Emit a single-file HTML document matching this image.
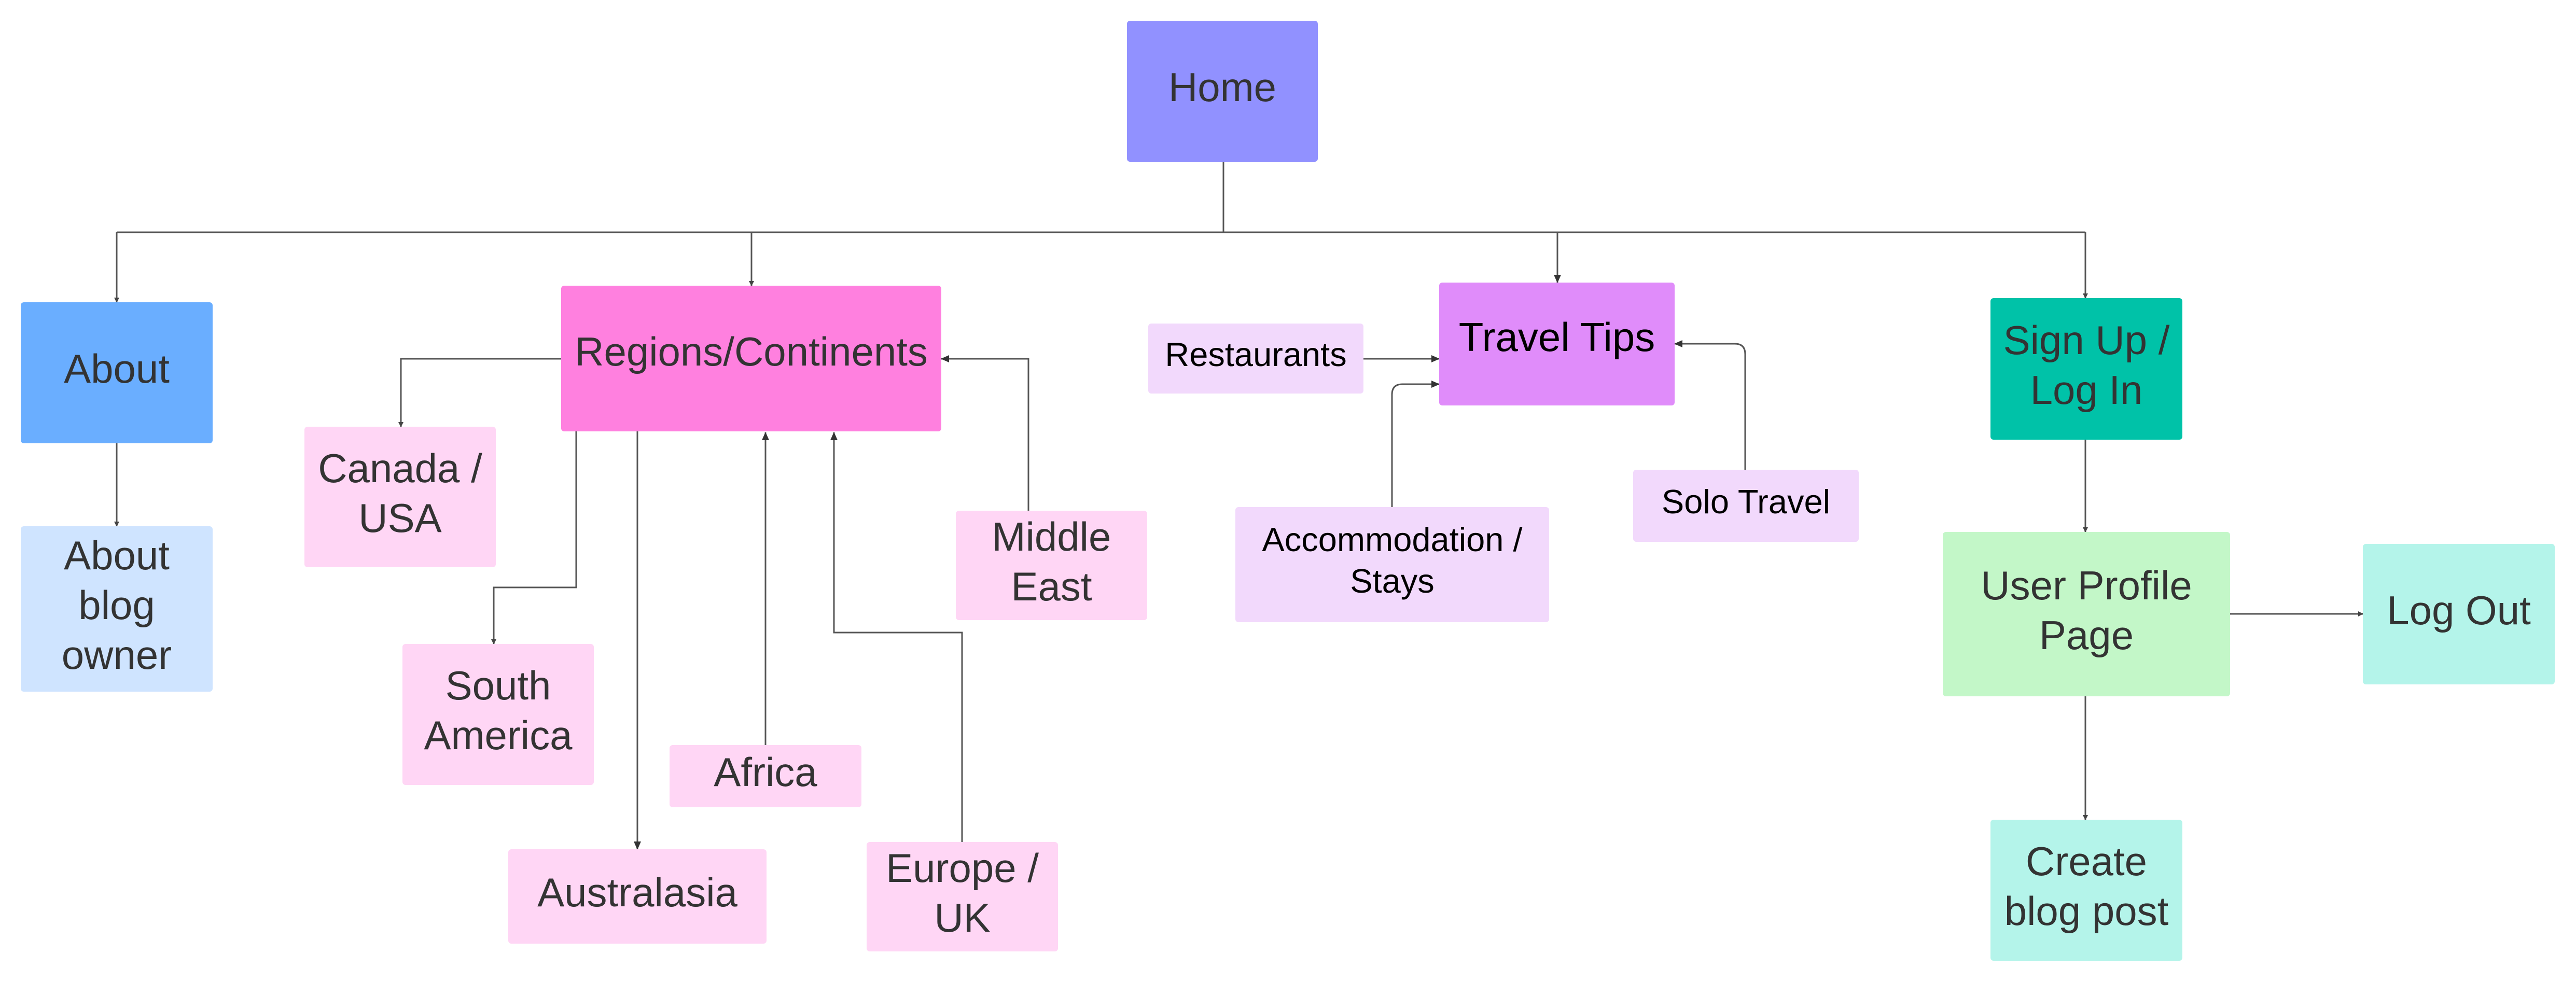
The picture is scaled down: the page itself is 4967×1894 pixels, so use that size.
<!DOCTYPE html>
<html><head><meta charset="utf-8"><style>
html,body{margin:0;padding:0;background:#fff;}
#c{position:relative;width:4967px;height:1894px;overflow:hidden;background:#fff;}
.b{position:absolute;display:flex;align-items:center;justify-content:center;text-align:center;font-family:"Liberation Sans",sans-serif;font-size:78px;line-height:96px;color:#333;border-radius:6px;box-sizing:border-box;padding-bottom:16px;}
.s{font-size:65px;line-height:80px;color:#000;}
svg{position:absolute;left:0;top:0;}
</style></head><body><div id="c">
<svg width="4967" height="1894">
<defs><marker id="a" markerWidth="10" markerHeight="10" refX="9" refY="5" orient="auto" markerUnits="userSpaceOnUse"><path d="M0,0 L10,5 L0,10 z" fill="#444"/></marker>
<marker id="A" markerWidth="16" markerHeight="16" refX="15" refY="8" orient="auto" markerUnits="userSpaceOnUse"><path d="M0,1 L16,8 L0,15 z" fill="#333"/></marker></defs>
<g fill="none" stroke="#555" stroke-width="3">
<path d="M2359 312 V448"/>
<path d="M225 448 H4021"/>
<path d="M225 448 V583" marker-end="url(#a)"/>
<path d="M1449 448 V551" marker-end="url(#a)"/>
<path d="M3003 448 V545" marker-end="url(#A)"/>
<path d="M4021 448 V575" marker-end="url(#a)"/>
<path d="M225 855 V1015" marker-end="url(#a)"/>
<path d="M1082 692 H773 V823" marker-end="url(#a)"/>
<path d="M1111 832 V1133 H952 V1242" marker-end="url(#a)"/>
<path d="M1229 832 V1638" marker-end="url(#A)"/>
<path d="M1476 1437 V834" marker-end="url(#A)"/>
<path d="M1855 1624 V1220 H1608 V834" marker-end="url(#A)"/>
<path d="M1983 985 V692 H1815" marker-end="url(#A)"/>
<path d="M2629 692 H2775" marker-end="url(#A)"/>
<path d="M2684 978 V761 Q2684 741 2704 741 H2775" marker-end="url(#A)"/>
<path d="M3365 906 V683 Q3365 663 3345 663 H3229" marker-end="url(#A)"/>
<path d="M4021 848 V1026" marker-end="url(#a)"/>
<path d="M4300 1184 H4556" marker-end="url(#a)"/>
<path d="M4021 1343 V1581" marker-end="url(#a)"/>
</g></svg>
<div class="b" style="left:2173px;top:40px;width:368px;height:272px;background:#9191ff">Home</div>
<div class="b" style="left:40px;top:583px;width:370px;height:272px;background:#6aaeff">About</div>
<div class="b" style="left:40px;top:1015px;width:370px;height:319px;background:#cfe4ff">About<br>blog<br>owner</div>
<div class="b" style="left:1082px;top:551px;width:733px;height:281px;background:#ff80df;padding-bottom:28px">Regions/Continents</div>
<div class="b" style="left:587px;top:823px;width:369px;height:271px;background:#ffd6f5">Canada /<br>USA</div>
<div class="b" style="left:776px;top:1242px;width:369px;height:272px;background:#ffd6f5">South<br>America</div>
<div class="b" style="left:980px;top:1638px;width:498px;height:182px;background:#ffd6f5">Australasia</div>
<div class="b" style="left:1291px;top:1437px;width:370px;height:120px;background:#ffd6f5">Africa</div>
<div class="b" style="left:1671px;top:1624px;width:369px;height:211px;background:#ffd6f5">Europe /<br>UK</div>
<div class="b" style="left:1843px;top:985px;width:369px;height:211px;background:#ffd6f5">Middle<br>East</div>
<div class="b s" style="left:2214px;top:624px;width:415px;height:135px;background:#f2d9fc">Restaurants</div>
<div class="b" style="left:2775px;top:545px;width:454px;height:237px;background:#e08cfa;color:#000;padding-bottom:28px">Travel Tips</div>
<div class="b s" style="left:2382px;top:978px;width:605px;height:222px;background:#f2d9fc">Accommodation /<br>Stays</div>
<div class="b s" style="left:3149px;top:906px;width:435px;height:139px;background:#f2d9fc">Solo Travel</div>
<div class="b" style="left:3838px;top:575px;width:370px;height:273px;background:#00c2a8">Sign Up /<br>Log In</div>
<div class="b" style="left:3746px;top:1026px;width:554px;height:317px;background:#c3f7c8">User Profile<br>Page</div>
<div class="b" style="left:4556px;top:1049px;width:370px;height:271px;background:#b4f4ea">Log Out</div>
<div class="b" style="left:3838px;top:1581px;width:370px;height:272px;background:#b4f4ea">Create<br>blog post</div>
</div></body></html>
